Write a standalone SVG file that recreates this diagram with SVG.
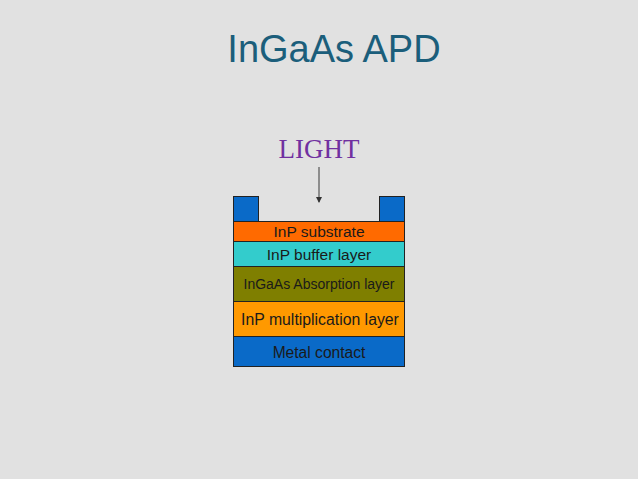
<svg xmlns="http://www.w3.org/2000/svg" width="638" height="479" viewBox="0 0 638 479">
<style>
.layer{stroke:#222;stroke-width:1}
.lbl{font-family:"Liberation Sans",Arial,sans-serif;fill:#1a1a1a;text-anchor:middle}
</style>
<defs>
<marker id="ah" markerWidth="6" markerHeight="6" refX="5" refY="3" orient="auto" markerUnits="userSpaceOnUse">
<path d="M0,0 L6,3 L0,6 z" fill="#333"/>
</marker>
</defs>
<rect width="638" height="479" fill="#e1e1e1"/>
<text x="334" y="62" font-family="Liberation Sans,Arial,sans-serif" font-size="38" fill="#1b5e7b" text-anchor="middle">InGaAs APD</text>
<g id="light"><text x="319" y="158" font-family="Liberation Serif,Times New Roman,serif" font-size="27" fill="#7030a0" text-anchor="middle">LIGHT</text></g>
<g id="connectors"><line x1="319" y1="167" x2="319" y2="202" stroke="#555" stroke-width="1.2" marker-end="url(#ah)"/></g>
<g id="contact-left"><rect class="layer" x="233.5" y="196.5" width="25" height="25" fill="#0a6ac8"/></g>
<g id="contact-right"><rect class="layer" x="379.5" y="196.5" width="25" height="25" fill="#0a6ac8"/></g>
<g id="substrate"><rect class="layer" x="233.5" y="221.5" width="171" height="20" fill="#ff6a00"/><text class="lbl" x="319" y="237" font-size="15.5">InP substrate</text></g>
<g id="buffer"><rect class="layer" x="233.5" y="241.5" width="171" height="25" fill="#33cccc"/><text class="lbl" x="319" y="260" font-size="15.5">InP buffer layer</text></g>
<g id="absorption"><rect class="layer" x="233.5" y="266.5" width="171" height="35" fill="#7f7f00"/><text class="lbl" x="319" y="289" font-size="14">InGaAs Absorption layer</text></g>
<g id="multiplication"><rect class="layer" x="233.5" y="301.5" width="171" height="35" fill="#ff9900"/><text class="lbl" x="320" y="325" font-size="15.8">InP multiplication layer</text></g>
<g id="metal"><rect class="layer" x="233.5" y="336.5" width="171" height="30" fill="#0a6ac8"/><text class="lbl" x="319" y="358" font-size="15.6" fill="#0d2a55">Metal contact</text></g>
</svg>
